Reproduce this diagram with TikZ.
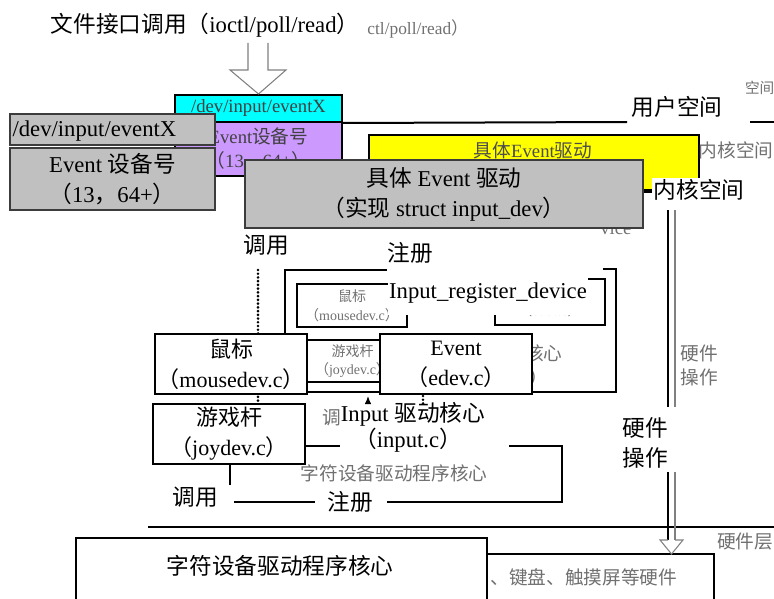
\documentclass[tikz,border=0pt]{standalone}
\usepackage{fontspec}
\setmainfont{Liberation Serif}
\newfontfamily\cjk{Noto Sans CJK SC}
\newcommand{\zh}[1]{{\cjk #1}}
\newcommand{\bigf}{\fontsize{17}{22.5}\selectfont}
\newcommand{\boxf}{\fontsize{16.5}{22.5}\selectfont}
\newcommand{\smallf}{\fontsize{14}{18}\selectfont}
\newcommand{\tinyf}{\fontsize{10.5}{14}\selectfont}
\usetikzlibrary{fit,arrows.meta}
\definecolor{boxgray}{HTML}{C0C0C0}
\definecolor{edgegray}{HTML}{3C3C3C}
\definecolor{devcyan}{HTML}{00FFFF}
\definecolor{devpurple}{HTML}{CC99FF}
\definecolor{devyellow}{HTML}{FFFF00}
\definecolor{fadetext}{HTML}{707070}

\begin{document}
\begin{tikzpicture}[x=0.75pt, y=-0.75pt,
                    every node/.style={inner sep=1pt, align=center},
                    txt/.style={font=\bigf},
                    faded/.style={font=\smallf, text=fadetext},
                    box/.style={draw=black, line width=1.5pt, fill=white, inner sep=0pt, font=\boxf},
                    graybox/.style={box, draw=edgegray, fill=boxgray, font=\bigf},
                    oldbox/.style={draw=black, line width=1.5pt, inner sep=0pt, font=\smallf, text=black!75},
                    thinbox/.style={draw=black, line width=1.2pt, inner sep=0pt, font=\tinyf, text=fadetext},
                    bar/.style={line width=1.5pt},
                    dotsline/.style={line width=2.2pt, line cap=round, dash pattern=on 0pt off 2.8pt},
                    hollow/.style={draw=gray, line width=0.8pt}]

    \useasboundingbox (0,0) rectangle (774,599);

    % Define nodes (user space)
    \node[txt] (fcall) at (205,25) {\zh{文件接口调用（}ioctl/poll/read\zh{）}};
    \node[faded, font=\fontsize{13}{16}\selectfont] (fcall2) at (418,29) {ctl/poll/read\zh{）}};
    \node[oldbox, fill=devcyan, minimum width=125.25pt, minimum height=20.25pt] (devc) at (258.5,108.5) {/dev/input/eventX};
    \node[oldbox, fill=devpurple, minimum width=125.25pt, minimum height=40.5pt] (devp) at (258.5,149) {Event\zh{设备号}\\\zh{（}13\zh{，}64+\zh{）}};
    \draw[hollow] (248,43) -- ++(0,27) -- ++(-18,0) -- (devc.north) -- (286,70) -- ++(-18,0) -- ++(0,-27); % file call

    \draw[bar] (devc.south east) -- (627,122);
    \node[txt] (user) at (677,107) {\zh{用户空间}};
    \draw[bar] (750,122) -- (774,122);
    \node[faded, font=\fontsize{11}{13}\selectfont, anchor=east] (userold) at (776,88) {\zh{空间}};

    % Define nodes (kernel space)
    \node[oldbox, fill=devyellow, fit={(369,135) (699,192)}] (drvold) {};
    \node[font=\smallf, text=black!70] (drvoldtxt) at (533,150) {\zh{具体}Event\zh{驱动}};
    \node[faded] (kernold) at (736,150) {\zh{内核空间}};
    \node[faded, anchor=base east] (vice) at (633,234) {vice};

    \node[graybox, fit={(10,114) (215,145)}] (devg) {};
    \node[txt, anchor=west] (devgtxt) at (11,131) {/dev/input/eventX};
    \node[graybox, minimum width=153.75pt, minimum height=46.5pt] (majg) at (112.5,179) {Event \zh{设备号}\\\zh{（}13\zh{，}64+\zh{）}};
    \node[graybox, minimum width=298.5pt, minimum height=51pt] (drvg) at (444,194) {\zh{具体} Event \zh{驱动}\\\zh{（实现} struct input\_dev\zh{）}};

    \node[txt, fill=white] (kern) at (699,190) {\zh{内核空间}};
    \path[bar] (drvg.east |- kern.west) edge (kern.west);

    % register frame
    \node[txt] (call1) at (266,245) {\zh{调用}};
    \draw[dotsline] (258,270) -- (258,404); % call line
    \draw[bar] (387,270) -- (285,270) -- (285,392) -- (616,392) -- (616,269) -- (603,269);

    \node[thinbox, minimum width=82.5pt, minimum height=32.25pt] (mouseold) at (352,305.5) {\zh{鼠标}\\\zh{（}mousedev.c\zh{）}};
    \node[thinbox, minimum width=82.5pt, minimum height=34.5pt] (eventold) at (550,302) {Event\\\zh{（}edev.c\zh{）}};
    \node[thinbox, minimum width=78.75pt, minimum height=31.5pt] (joyold) at (352.5,361) {\zh{游戏杆}\\\zh{（}joydev.c\zh{）}};
    \node[faded, anchor=east] (coreold1) at (564,355) {Input\zh{驱动核心}};
    \node[faded, anchor=east] (coreold2) at (550,378) {\zh{（}input.c\zh{）}};

    \node[txt, fill=white, inner ysep=9pt] (regfun) at (488,293) {Input\_register\_device};
    \node[txt] (reg1) at (410,253) {\zh{注册}};

    % Define nodes (event handlers)
    \node[box, minimum width=114pt, minimum height=45pt] (mouse) at (231,364) {\zh{鼠标}\\\zh{（}mousedev.c\zh{）}};
    \node[box, minimum width=114pt, minimum height=45pt] (event) at (456,364) {Event\\\zh{（}edev.c\zh{）}};
    \node[box, minimum width=114pt, minimum height=45pt] (joy) at (229,434) {\zh{游戏杆}\\\zh{（}joydev.c\zh{）}};

    % input core
    \node[faded, anchor=west] (callold) at (321,418) {\zh{调用}};
    \node[txt, fill=white] (core) at (413,414) {Input \zh{驱动核心}};
    \node[txt] (core2) at (408,440) {\zh{（}input.c\zh{）}};
    \draw[dotsline] (423,396) -- (423,404);
    \draw[-{Latex[length=6pt,width=5pt]}, line width=1pt] (368,404) -- (368,396);

    \draw[bar] (joy.east |- 305,446) -- (340,446);
    \draw[bar] (509,446) -- (562,446) -- (562,502) -- (387,502);
    \draw[bar] (230,464) -- (230,485);
    \draw[bar] (234,502) -- (315,502);
    \node[txt] (call2) at (195,497) {\zh{调用}};
    \node[txt] (reg2) at (350,502) {\zh{注册}};
    \node[faded] (chrold) at (394,473) {\zh{字符设备驱动程序核心}};

    % hardware layer
    \draw[bar] (148,527) -- (774,527);
    \node[box, fit={(76,538) (487,604)}] (chr) {};
    \node[txt] (chrtxt) at (280,566) {\zh{字符设备驱动程序核心}};
    \node[box, fit={(487,554) (714,604)}] (hw) {};
    \node[faded, anchor=west] (hwtxt) at (489,577) {\zh{、键盘、触摸屏等硬件}};
    \node[faded] (hwlayer) at (745,542) {\zh{硬件层}};

    % hardware operation arrow
    \node[txt] (hwop) at (645,443) {\zh{硬件}\\\zh{操作}};
    \node[faded] (hwopold) at (699,365) {\zh{硬件}\\\zh{操作}};
    \draw[line width=1pt] (668,210) -- (668,407);
    \draw[line width=1pt, gray] (675,210) -- (675,407);
    \draw[line width=1pt] (668,472) -- (668,540);
    \draw[line width=1pt, gray] (675,472) -- (675,540);
    \draw[hollow] (668,540) -- (660,540) -- (671.5,554) -- (683,540) -- (675,540);
\end{tikzpicture}
\end{document}
